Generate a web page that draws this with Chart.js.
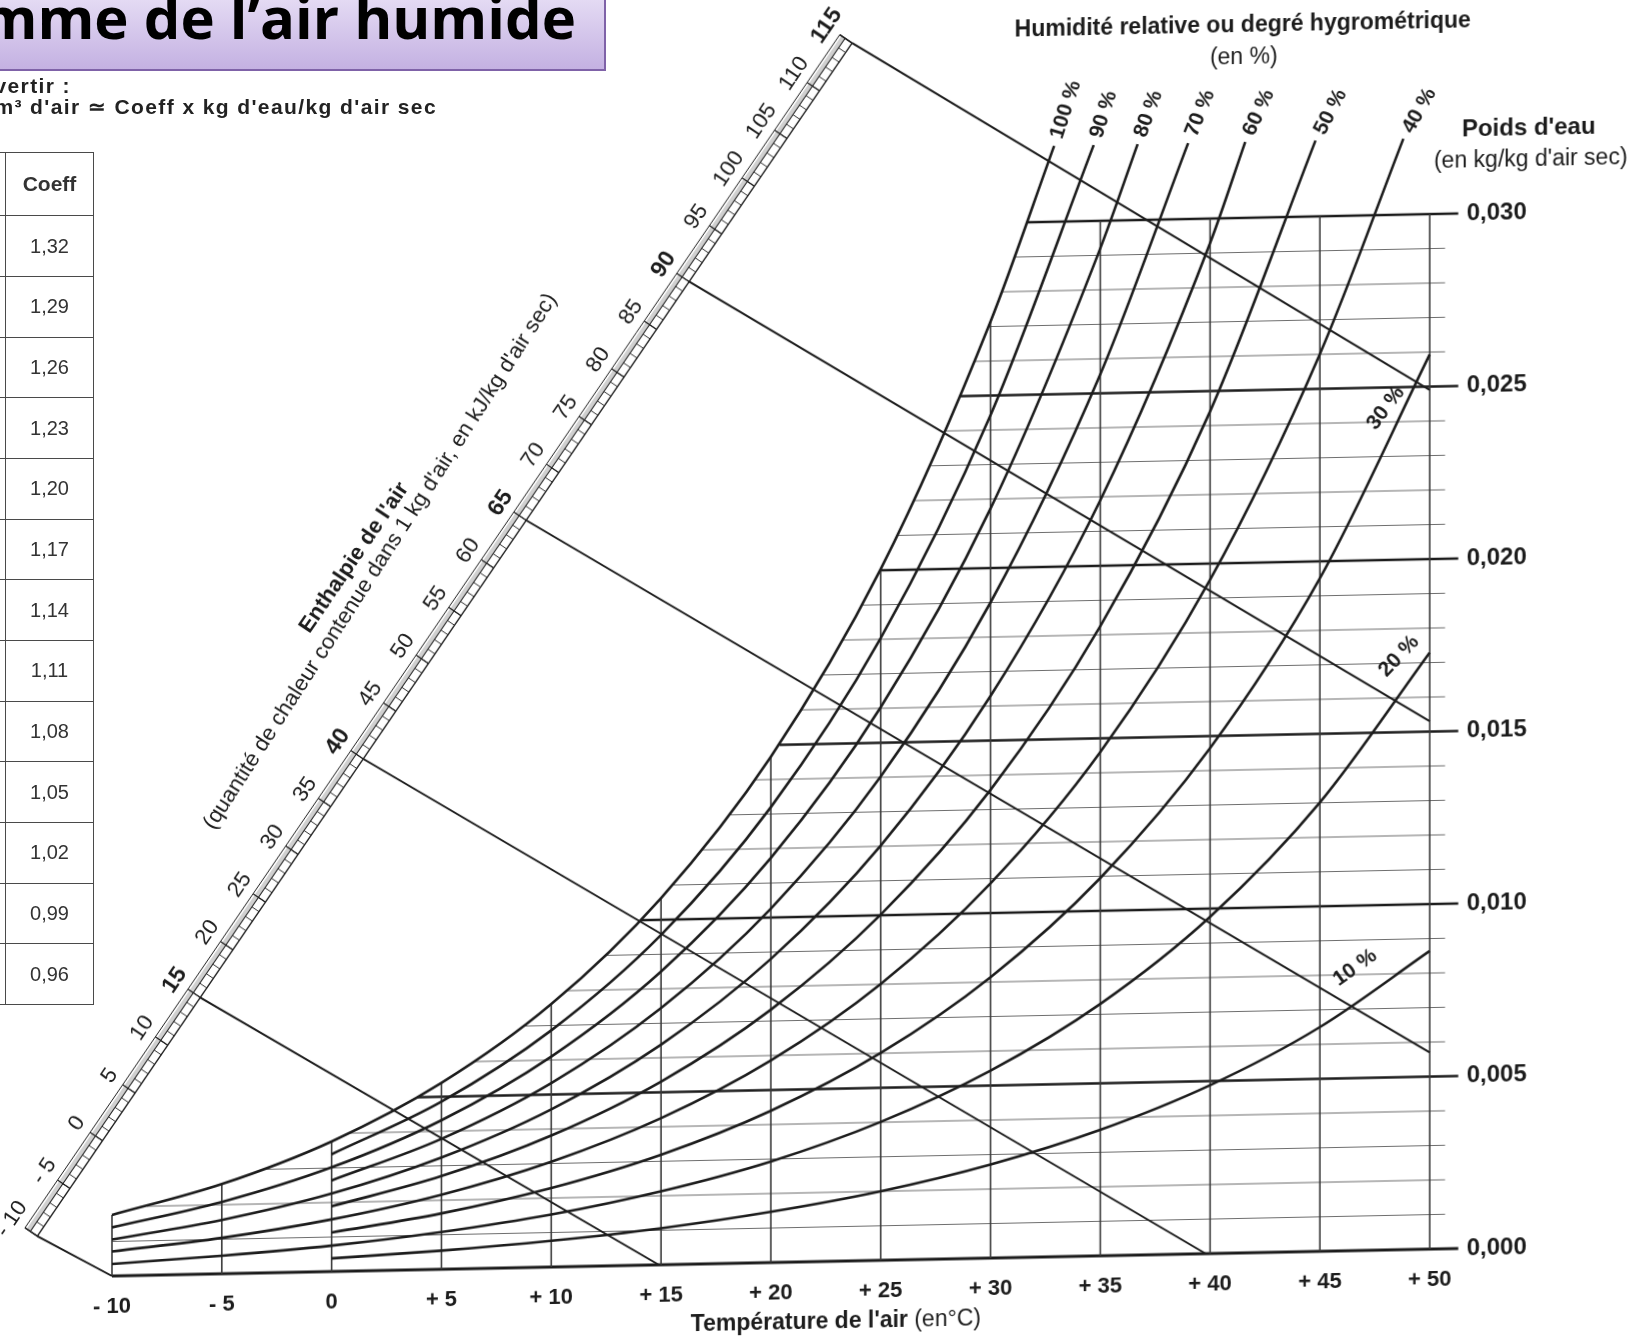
<!DOCTYPE html>
<html lang="fr">
<head>
<meta charset="utf-8">
<title>Diagramme de l'air humide</title>
<script src="https://cdn.jsdelivr.net/npm/chart.js@4.4.1/dist/chart.umd.min.js"></script>
<style>
  html, body { margin: 0; padding: 0; background: #fff; }
  body { position: relative; width: 1639px; height: 1339px; overflow: hidden; font-family: "Liberation Sans", Arial, sans-serif; color: #1c1c1c; }
  /* the scanned sheet is slightly sheared: horizontals rise to the right */
  #sheet { position: absolute; left: 0; top: 0; width: 1639px; height: 1400px; transform: skewY(-1.17deg); transform-origin: 112px 0; }
  #title { position: absolute; left: -420px; top: -20px; width: 1026px; height: 91px; box-sizing: border-box;
           border: 2px solid #7f62a8; background: linear-gradient(#ece5f8, #c4b1e2);
           font: 700 58px/70px "Open Sans", sans-serif; color: #000; text-align: right; padding-right: 28px; white-space: nowrap; overflow: hidden; }
  .conv { position: absolute; white-space: nowrap; font: 700 21px "Liberation Sans", Arial, sans-serif; letter-spacing: 1.4px; color: #222; }
  #coeff { position: absolute; left: -57px; top: 152px; border-collapse: collapse; table-layout: fixed; font: 20px "Liberation Sans", Arial, sans-serif; color: #333; }
  #coeff td { border: 1.5px solid #4a4a4a; height: 59.7px; padding: 0; text-align: center; }
  #coeff th { border: 1.5px solid #4a4a4a; height: 62.2px; padding: 0; text-align: center; font-weight: bold; font-size: 21px; }
</style>
</head>
<body>
<div id="sheet"><canvas id="chart" width="1639" height="1400"></canvas></div>
<div id="title">Diagramme de l’air humide</div>
<div class="conv" style="right: 1568px; top: 74px;">Pour convertir :</div>
<div class="conv" style="right: 1202px; top: 95px;">g d'eau/m³ d'air ≃ Coeff x kg d'eau/kg d'air sec</div>
<table id="coeff"><colgroup><col style="width:62px"><col style="width:88px"></colgroup><tbody></tbody></table>
<script>
// temperatures of the isotherms and x tick labels, °C
const temps = [-10, -5, 0, 5, 10, 15, 20, 25, 30, 35, 40, 45, 50];

// relative humidity curves: water content (g per kg of dry air) read every 5 °C
const rhLabels = ['100 %', '90 %', '80 %', '70 %', '60 %', '50 %', '40 %', '30 %', '20 %', '10 %'];
const rhFirstTemp = [-10, 0, -10, 0, -10, 0, -10, 0, -10, 0];
const rh100 = [1.77, 2.60, 3.77, 5.40, 7.62, 10.63, 14.66, 20.03, 27.14];
const rh90 = [3.40, 4.86, 6.86, 9.56, 13.20, 18.03, 24.43];
const rh80 = [1.41, 2.08, 3.02, 4.32, 6.10, 8.50, 11.73, 16.03, 21.72, 29.20];
const rh70 = [2.64, 3.78, 5.33, 7.44, 10.26, 14.02, 19.00, 25.55];
const rh60 = [1.06, 1.56, 2.26, 3.24, 4.57, 6.38, 8.80, 12.02, 16.29, 21.90, 29.29];
const rh50 = [1.89, 2.70, 3.81, 5.31, 7.33, 10.02, 13.57, 18.25, 24.41];
const rh40 = [0.71, 1.04, 1.51, 2.16, 3.05, 4.25, 5.86, 8.01, 10.86, 14.60, 19.53, 26.01];
const rh30 = [1.13, 1.62, 2.29, 3.19, 4.40, 6.01, 8.14, 10.95, 14.65, 19.51, 25.93];
const rh20 = [0.35, 0.52, 0.75, 1.08, 1.52, 2.13, 2.93, 4.01, 5.43, 7.30, 9.76, 13.01, 17.29];
const rh10 = [0.38, 0.54, 0.76, 1.06, 1.47, 2.00, 2.71, 3.65, 4.88, 6.50, 8.64];
const rhValues = [rh100, rh90, rh80, rh70, rh60, rh50, rh40, rh30, rh20, rh10];
// temperature where each curve leaves the top of the sheet (null: runs to +50)
const rhTopTemp = [32.9, 34.7, 36.7, 39.0, 41.6, 44.8, 48.8, null, null, null];
const rhTopWater = 32.2;

// water content grid (g/kg) and the temperature where each line leaves the saturation curve
const waterLevels = [1, 2, 3, 4, 5, 6, 7, 8, 9, 10, 11, 12, 13, 14, 15, 16, 17, 18, 19, 20, 21, 22, 23, 24, 25, 26, 27, 28, 29, 30];
const waterStartTemp = [-10, -8.4, -3.1, 0.8, 3.9, 6.5, 8.8, 10.7, 12.5, 14.1, 15.5, 16.9, 18.1, 19.3, 20.4,
                        21.4, 22.4, 23.3, 24.1, 25.0, 25.8, 26.5, 27.3, 28.0, 28.6, 29.3, 29.9, 30.5, 31.1, 31.7];

// enthalpy lines (kJ/kg dry air) and where they end on the chart
const enthalpyLines = [-10, 15, 40, 65, 90, 115];
const enthalpyEndTemp = [-10, 14.9, 39.8, 50, 50, 50];
const enthalpyEndWater = [0, 0, 0, 5.7, 15.3, 24.9];
// oblique enthalpy scale: its ends in chart coordinates
const enthalpyAxis = {h0: -10, t0: -13.4, w0: 1.2, h1: 115, t1: 23.7, w1: 35.3};
const enthalpyTicks = [-10, -5, 0, 5, 10, 15, 20, 25, 30, 35, 40, 45, 50, 55, 60, 65, 70, 75, 80, 85, 90, 95, 100, 105, 110, 115];
const enthalpyBold = [15, 40, 65, 90, 115];

// conversion table
const coeffValues = ['1,32', '1,29', '1,26', '1,23', '1,20', '1,17', '1,14', '1,11', '1,08', '1,05', '1,02', '0,99', '0,96'];

const ink = '#1c1c1c';
const font = '"Liberation Sans", Arial, sans-serif';

// table
const tbody = document.querySelector('#coeff tbody');
tbody.innerHTML = '<tr><th></th><th>Coeff</th></tr>' + coeffValues.map(v => '<tr><td></td><td>' + v + '</td></tr>').join('');

function enthalpyPoint(h) {
  const f = (h - enthalpyAxis.h0) / (enthalpyAxis.h1 - enthalpyAxis.h0);
  return {x: enthalpyAxis.t0 + f * (enthalpyAxis.t1 - enthalpyAxis.t0), y: enthalpyAxis.w0 + f * (enthalpyAxis.w1 - enthalpyAxis.w0)};
}

const datasets = [];
// humidity curves
rhValues.forEach((vals, i) => {
  const i0 = temps.indexOf(rhFirstTemp[i]);
  const pts = vals.map((w, k) => ({x: temps[i0 + k], y: w}));
  if (rhTopTemp[i] !== null) pts.push({x: rhTopTemp[i], y: rhTopWater});
  datasets.push({data: pts, borderColor: ink, borderWidth: 2.6, cubicInterpolationMode: 'monotone'});
});
// enthalpy lines
enthalpyLines.forEach((h, i) => {
  datasets.push({data: [enthalpyPoint(h), {x: enthalpyEndTemp[i], y: enthalpyEndWater[i]}], borderColor: ink, borderWidth: 2});
});
// isotherms, up to saturation
temps.forEach((t, i) => {
  const top = i < rh100.length ? Math.min(rh100[i], 30) : 30;
  datasets.push({data: [{x: t, y: 0}, {x: t, y: top}], borderColor: '#3a3a3a', borderWidth: 1.6});
});
// water content lines
waterLevels.forEach((w, i) => {
  const major = w % 5 === 0;
  datasets.push({data: [{x: waterStartTemp[i], y: w}, {x: major ? 51.3 : 50.7, y: w}],
                 borderColor: major ? ink : '#6e6e6e', borderWidth: major ? 2.6 : 1.2});
});
datasets.push({data: [{x: -10, y: 0}, {x: 51.3, y: 0}], borderColor: ink, borderWidth: 3});

const sheetText = {
  id: 'sheetText',
  afterDraw(chart) {
    const {ctx} = chart;
    const xs = chart.scales.x, ys = chart.scales.y;
    const px = (t, w) => [xs.getPixelForValue(t), ys.getPixelForValue(w)];
    const label = (txt, x, y, angle, f, align, dx) => {
      ctx.save();
      ctx.translate(x, y);
      ctx.rotate(angle * Math.PI / 180);
      ctx.font = f;
      ctx.textAlign = align || 'center';
      ctx.textBaseline = 'middle';
      ctx.fillText(txt, dx || 0, 0);
      ctx.restore();
    };
    const seg = (p, q, w) => {
      ctx.lineWidth = w;
      ctx.beginPath(); ctx.moveTo(p[0], p[1]); ctx.lineTo(q[0], q[1]); ctx.stroke();
    };
    ctx.save();
    ctx.strokeStyle = ink;

    // oblique enthalpy scale
    const a = px(enthalpyAxis.t0, enthalpyAxis.w0), b = px(enthalpyAxis.t1, enthalpyAxis.w1);
    const len = Math.hypot(b[0] - a[0], b[1] - a[1]);
    const ux = (b[0] - a[0]) / len, uy = (b[1] - a[1]) / len, nx = uy, ny = -ux;
    const h0 = enthalpyAxis.h0, h1 = enthalpyAxis.h1;
    const at = (h, off) => {
      const f = (h - h0) / (h1 - h0);
      return [a[0] + f * (b[0] - a[0]) + nx * off, a[1] + f * (b[1] - a[1]) + ny * off];
    };
    ctx.fillStyle = '#d0d0d0';
    ctx.beginPath();
    [at(h0, 8.5), at(h1, 8.5), at(h1, 13), at(h0, 13)].forEach((p, i) => i ? ctx.lineTo(p[0], p[1]) : ctx.moveTo(p[0], p[1]));
    ctx.closePath(); ctx.fill();
    seg(at(h0, 0), at(h1, 0), 1.4);
    seg(at(h0, 8.5), at(h1, 8.5), 1.1);
    seg(at(h0, 15), at(h1, 15), 1);
    seg(at(h0, 0), at(h0, 15), 1.3);
    seg(at(h1, 0), at(h1, 15), 1.3);
    for (let h = h0; h <= h1; h++) seg(at(h, 0), at(h, 8.5), 0.9);
    const angle = Math.atan2(uy, ux) * 180 / Math.PI;
    ctx.fillStyle = ink;
    enthalpyTicks.forEach(h => {
      seg(at(h, 0), at(h, 15), 1.2);
      const bold = enthalpyBold.includes(h);
      const p = at(h, 31);
      label(h < 0 ? '- ' + (-h) : String(h), p[0], p[1], angle, (bold ? 'bold 23px ' : '22px ') + font);
    });
    let p = at(54, 122);
    label("Enthalpie de l'air", p[0], p[1], angle, 'bold 22px ' + font);
    p = at(55, 98);
    label("(quantité de chaleur contenue dans 1 kg d'air, en kJ/kg d'air sec)", p[0], p[1], angle - 1.5, '22px ' + font);

    // humidity labels at the top of the curves
    const topAngles = [-72, -72, -70, -68, -65, -62, -60];
    rhTopTemp.forEach((t, i) => {
      if (t === null) return;
      const q = px(t, rhTopWater);
      label(rhLabels[i], q[0], q[1], topAngles[i], 'bold 21px ' + font, 'left', 8);
    });
    // humidity labels along the low curves
    [[7, 48.0, 24.4, -52], [8, 48.6, 17.2, -46], [9, 46.6, 8.2, -35]].forEach(([i, t, w, ang]) => {
      const q = px(t, w);
      label(rhLabels[i], q[0], q[1], ang, 'bold 21px ' + font);
    });

    // titles
    label('Humidité relative ou degré hygrométrique', 1243, 49, 0, 'bold 23px ' + font);
    label('(en %)', 1244, 81, 0, '23px ' + font);
    label("Poids d'eau", 1529, 157, 0, 'bold 24px ' + font);
    label("(en kg/kg d'air sec)", 1531, 189, 0, '23px ' + font);
    ctx.font = 'bold 23px ' + font;
    const w1 = ctx.measureText("Température de l'air ").width;
    ctx.font = '23px ' + font;
    const w2 = ctx.measureText('(en°C)').width;
    const x0 = 836 - (w1 + w2) / 2;
    label("Température de l'air ", x0, 1337, 0, 'bold 23px ' + font, 'left');
    label('(en°C)', x0 + w1, 1337, 0, '23px ' + font, 'left');
    ctx.restore();
  }
};

new Chart(document.getElementById('chart'), {
  type: 'line',
  data: {datasets},
  options: {
    responsive: false,
    animation: false,
    devicePixelRatio: 1,
    events: [],
    layout: {padding: {left: 112, top: 241, right: 0, bottom: 0}},
    datasets: {line: {clip: false, pointRadius: 0, fill: false, tension: 0}},
    plugins: {legend: {display: false}, tooltip: {enabled: false}},
    scales: {
      x: {
        type: 'linear', min: -10, max: 50,
        grid: {display: false, drawTicks: false}, border: {display: false},
        ticks: {stepSize: 5, padding: 18, color: ink, maxRotation: 0, autoSkip: false,
                font: {family: 'Liberation Sans', weight: 'bold', size: 22},
                callback: v => v < 0 ? '- ' + (-v) : v > 0 ? '+ ' + v : '0'},
        afterFit: s => { s.height = 124; }
      },
      y: {
        type: 'linear', position: 'right', min: 0, max: 30,
        grid: {display: false, drawTicks: false}, border: {display: false},
        ticks: {stepSize: 5, padding: 37, color: ink,
                font: {family: 'Liberation Sans', weight: 'bold', size: 24},
                callback: v => (v / 1000).toFixed(3).replace('.', ',')},
        afterFit: s => { s.width = 209; }
      }
    }
  },
  plugins: [sheetText]
});
</script>
</body>
</html>
